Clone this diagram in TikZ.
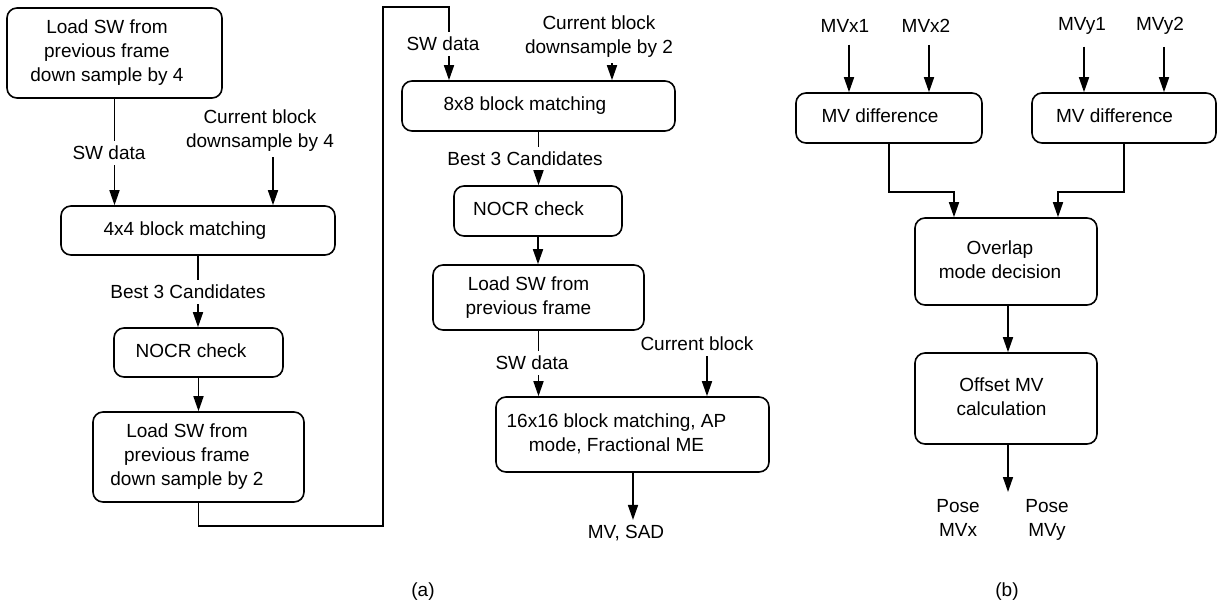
\documentclass[tikz,border=0pt]{standalone}
\usepackage{fontspec}
\setmainfont{Liberation Sans}
\usetikzlibrary{arrows.meta}
\newcommand{\boxtext}[2]{\begin{tabular}{@{}c@{}}#1\end{tabular}\hspace*{#2}}
\begin{document}
\begin{tikzpicture}[x=1pt,y=-1pt,
  every node/.style={font=\fontsize{19}{24}\selectfont},
  box/.style={draw, line width=1.6pt, rounded corners=10pt, inner sep=0pt},
  lbl/.style={align=center, inner xsep=1pt, inner ysep=5pt},
  conn/.style={line width=1.6pt},
  arr/.style={line width=1.6pt, -{Triangle[length=15pt,width=10pt]}}]
\path[use as bounding box] (0,0) rectangle (1218,610);

% ---------- (a) ----------
\node[box, minimum width=215pt, minimum height=90pt] (b1) at (114.5,53)
  {\boxtext{Load SW from\\previous frame\\down sample by 4}{15pt}};
\node[lbl] (sw1) at (109,153) {SW data};
\node[lbl] (cb1) at (260,131) {Current block\\downsample by 4};
\node[box, minimum width=274pt, minimum height=49pt] (b2) at (198,230.5)
  {\boxtext{4x4 block matching}{26pt}};
\node[lbl] (bc1) at (188,292) {Best 3 Candidates};
\node[box, minimum width=169pt, minimum height=49pt] (b3) at (198.5,352.5)
  {\boxtext{NOCR check}{15pt}};
\node[box, minimum width=211pt, minimum height=90pt] (b4) at (198.5,457)
  {\boxtext{Load SW from\\previous frame\\down sample by 2}{23pt}};

\node[lbl] (sw2) at (443,44) {SW data};
\node[lbl] (cb2) at (599,37) {Current block\\downsample by 2};
\node[box, minimum width=273pt, minimum height=50pt] (b5) at (538.5,106)
  {\boxtext{8x8 block matching}{27pt}};
\node[lbl] (bc2) at (525,159) {Best 3 Candidates};
\node[box, minimum width=168pt, minimum height=50pt] (b6) at (538,211)
  {\boxtext{NOCR check}{19pt}};
\node[box, minimum width=211pt, minimum height=65pt] (b7) at (538.5,297.5)
  {\boxtext{Load SW from\\previous frame}{20pt}};
\node[lbl] (sw3) at (532,363) {SW data};
\node[lbl] (cb3) at (697,344) {Current block};
\node[box, minimum width=273pt, minimum height=75pt] (b8) at (632.5,434.5)
  {\boxtext{16x16 block matching, AP\\mode, Fractional ME}{32pt}};
\node[lbl] (mvsad) at (626,533) {MV, SAD};
\node[lbl] (capa) at (423,592) {(a)};

\coordinate (x273) at (273,0);
\coordinate (x612) at (612,0);
\coordinate (x707) at (707,0);
\coordinate (x633) at (633,0);
\coordinate (k1) at (383,526);
\coordinate (k2) at (383,7);
\coordinate (k3) at (449,7);

\draw[conn] (b1.south) -- (b1.south |- sw1.north);
\draw[arr] (b1.south |- sw1.south) -- (b1.south |- b2.north);
\draw[arr] (cb1.south -| x273) -- (b2.north -| x273);
\draw[conn] (b2.south) -- (b2.south |- bc1.north);
\draw[arr] (b2.south |- bc1.south) -- (b2.south |- b3.north);
\draw[arr] (b3.south) -- (b4.north);
\draw[conn] (b4.south) |- (k1) -- (k2) -- (k3) -- (k3 |- sw2.north);
\draw[arr] (k3 |- sw2.south) -- (k3 |- b5.north);
\draw[arr] (cb2.south -| x612) -- (b5.north -| x612);
\draw[conn] (b5.south) -- (b5.south |- bc2.north);
\draw[arr] (b5.south |- bc2.south) -- (b5.south |- b6.north);
\draw[arr] (b6.south) -- (b6.south |- b7.north);
\draw[conn] (b7.south) -- (b7.south |- sw3.north);
\draw[arr] (b7.south |- sw3.south) -- (b7.south |- b8.north);
\draw[arr] (cb3.south -| x707) -- (b8.north -| x707);
\draw[arr] (b8.south -| x633) -- (mvsad.north -| x633);

% ---------- (b) ----------
\node[lbl] (mvx1) at (845,26) {MVx1};
\node[lbl] (mvx2) at (926,26) {MVx2};
\node[lbl] (mvy1) at (1082,26) {MVy1};
\node[lbl] (mvy2) at (1160,26) {MVy2};
\node[box, minimum width=186pt, minimum height=50pt] (c1) at (889,118)
  {\boxtext{MV difference}{18pt}};
\node[box, minimum width=184pt, minimum height=50pt] (c2) at (1124,118)
  {\boxtext{MV difference}{19pt}};
\node[box, minimum width=182pt, minimum height=87pt] (c3) at (1006,261.5)
  {\boxtext{Overlap\\mode decision}{12pt}};
\node[box, minimum width=182pt, minimum height=91pt] (c4) at (1006,398.5)
  {\boxtext{Offset MV\\calculation}{9pt}};
\node[lbl, anchor=north] (pose1) at (958,494) {Pose\\MVx};
\node[lbl, anchor=north] (pose2) at (1047,494) {Pose\\MVy};
\node[lbl] (capb) at (1007,592) {(b)};

\coordinate (x849) at (849,0);
\coordinate (x929) at (929,0);
\coordinate (x1084) at (1084,0);
\coordinate (x1164) at (1164,0);
\coordinate (j1) at (954,192);
\coordinate (j2) at (1058,192);
\coordinate (x1008) at (1008,0);
\coordinate (e1) at (1008,492);

\draw[arr, shorten <=7pt] (mvx1.south -| x849) -- (c1.north -| x849);
\draw[arr, shorten <=7pt] (mvx2.south -| x929) -- (c1.north -| x929);
\draw[arr, shorten <=7pt] (mvy1.south -| x1084) -- (c2.north -| x1084);
\draw[arr, shorten <=7pt] (mvy2.south -| x1164) -- (c2.north -| x1164);
\draw[arr] (c1.south) |- (j1) -- (c3.north -| j1);
\draw[arr] (c2.south) |- (j2) -- (c3.north -| j2);
\draw[arr] (c3.south -| x1008) -- (c4.north -| x1008);
\draw[arr] (c4.south -| x1008) -- (e1);
\end{tikzpicture}
\end{document}
